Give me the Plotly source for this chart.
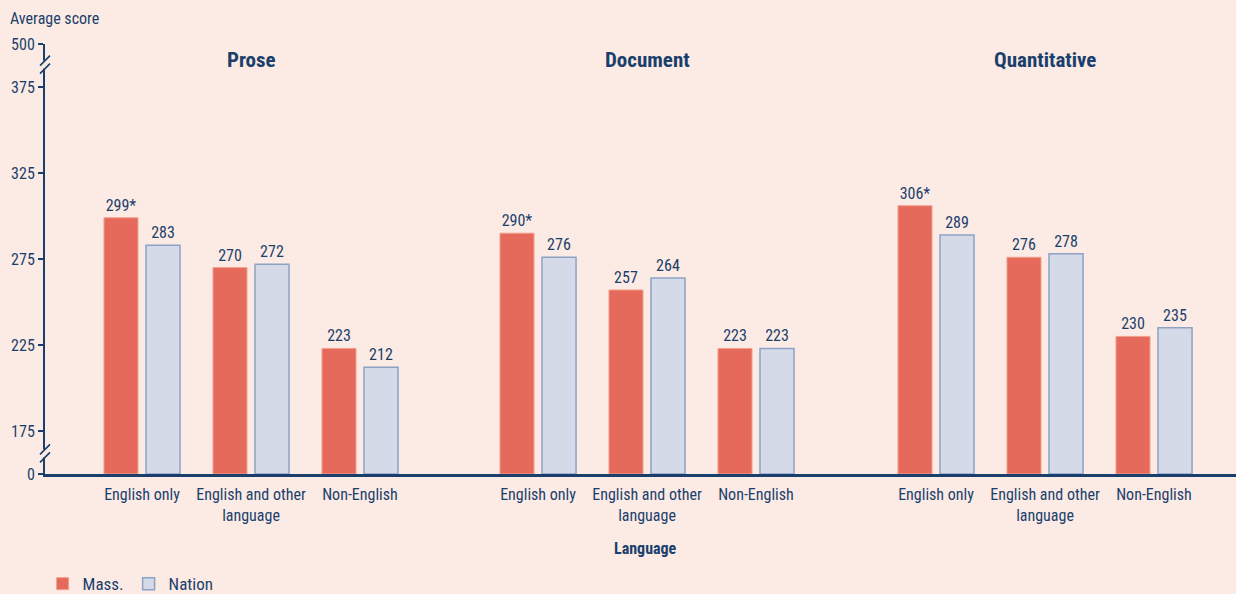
import plotly.graph_objects as go
from plotly.subplots import make_subplots

# ---- data ----
panels = ["Prose", "Document", "Quantitative"]
categories = ["English only", "English and other<br>language", "Non-English"]
mass = {
    "Prose": [299, 270, 223],
    "Document": [290, 257, 223],
    "Quantitative": [306, 276, 230],
}
mass_sig = {
    "Prose": [True, False, False],
    "Document": [True, False, False],
    "Quantitative": [True, False, False],
}
nation = {
    "Prose": [283, 272, 212],
    "Document": [276, 264, 223],
    "Quantitative": [289, 278, 235],
}
# broken axis: real score 0 drawn at 150, 500 drawn at 400
y_tickvals = [150, 175, 225, 275, 325, 375, 400]
y_ticktext = ["0", "175", "225", "275", "325", "375", "500"]
axis_floor = 150

# ---- style ----
NAVY = "#1B3F6C"
BG = "#FBEBE4"
RED = "#E66A5B"
RED_LINE = "#F2A08F"
BLUE = "#D4DAE7"
BLUE_LINE = "#8EA2C6"
FONT = "Noto Sans Condensed, Liberation Sans Narrow, Roboto Condensed, Roboto, sans-serif"

W, H = 1236, 594
ML, MR, MT, MB = 45, 0, 44, 120
PW = W - ML - MR
CAT_PX = 109
dom_px = [(45, 449), (449, 846), (846, 1236)]
first_center_px = [142, 538, 936]

fig = make_subplots(rows=1, cols=3, shared_yaxes=True, horizontal_spacing=0)

for i, p in enumerate(panels):
    col = i + 1
    fig.add_trace(go.Bar(
        x=categories, y=[v - axis_floor for v in mass[p]], base=axis_floor,
        name="Mass.", legendgroup="mass", showlegend=(i == 0),
        marker=dict(color=RED, line=dict(color=RED_LINE, width=1)),
        text=[f"{v}*" if s else f"{v}" for v, s in zip(mass[p], mass_sig[p])],
        textposition="outside", cliponaxis=False,
        textfont=dict(color=NAVY, size=16, family=FONT),
        hovertemplate="%{x}: " + "%{text}<extra>Mass.</extra>",
    ), row=1, col=col)
    fig.add_trace(go.Bar(
        x=categories, y=[v - axis_floor for v in nation[p]], base=axis_floor,
        name="Nation", legendgroup="nation", showlegend=(i == 0),
        marker=dict(color=BLUE, line=dict(color=BLUE_LINE, width=1.5)),
        text=[f"{v}" for v in nation[p]],
        textposition="outside", cliponaxis=False,
        textfont=dict(color=NAVY, size=16, family=FONT),
        hovertemplate="%{x}: " + "%{text}<extra>Nation</extra>",
    ), row=1, col=col)

    a, b = dom_px[i]
    c0 = first_center_px[i]
    xa = "xaxis" if i == 0 else f"xaxis{col}"
    fig.layout[xa].update(
        domain=[(a - ML) / PW, (b - ML) / PW],
        range=[-(c0 - a) / CAT_PX, (b - c0) / CAT_PX],
        showline=True, linecolor=NAVY, linewidth=2.5,
        ticks="", showgrid=False, zeroline=False, tickangle=0,
        ticklabelstandoff=4,
        tickfont=dict(color=NAVY, size=16, family=FONT),
        fixedrange=True,
    )
    # panel titles, centred over the middle category
    fig.add_annotation(
        text=f"<b>{p}</b>", xref="x" if i == 0 else f"x{col}", x=1,
        y=400, yref="y", yanchor="middle", yshift=-16,
        showarrow=False, font=dict(color=NAVY, size=21, family=FONT),
    )

fig.update_yaxes(
    range=[150, 400], tickvals=y_tickvals, ticktext=y_ticktext,
    showline=True, linecolor=NAVY, linewidth=2,
    ticks="outside", ticklen=5, tickwidth=2, tickcolor=NAVY,
    showgrid=False, zeroline=False,
    tickfont=dict(color=NAVY, size=16, family=FONT),
    fixedrange=True,
)
fig.update_yaxes(showline=False, ticks="", row=1, col=2)
fig.update_yaxes(showline=False, ticks="", row=1, col=3)

# axis breaks
for yb in [162, 388]:
    fig.add_shape(type="rect", xref="paper", yref="y", xsizemode="pixel", ysizemode="pixel",
                  xanchor=0, yanchor=yb, x0=-3, x1=3, y0=-4, y1=4,
                  fillcolor=BG, line=dict(width=0), layer="above")
    fig.add_shape(type="path", xref="paper", yref="y", xsizemode="pixel", ysizemode="pixel",
                  xanchor=0, yanchor=yb,
                  path="M-5,-9 L5,1 M-5,-1 L5,9",
                  line=dict(color=NAVY, width=1.6), layer="above")

# axis titles
fig.add_annotation(text="Average score", xref="paper", yref="paper", x=-ML / PW, xanchor="left",
                   xshift=8, y=1, yanchor="bottom", yshift=14, showarrow=False,
                   font=dict(color=NAVY, size=16, family=FONT))
fig.add_annotation(text="<b>Language</b>", xref="paper", yref="paper", x=(645 - ML) / PW,
                   y=0, yanchor="middle", yshift=-74, showarrow=False,
                   font=dict(color=NAVY, size=16, family=FONT))

fig.update_layout(
    width=W, height=H,
    margin=dict(l=ML, r=MR, t=MT, b=MB, autoexpand=False),
    paper_bgcolor=BG, plot_bgcolor=BG,
    barmode="group", bargap=0.229, bargroupgap=0.19,
    font=dict(family=FONT, color=NAVY),
    legend=dict(orientation="h", x=-0.002, xanchor="left", y=-0.256, yanchor="middle",
                font=dict(color=NAVY, size=17, family=FONT), bgcolor="rgba(0,0,0,0)",
                itemwidth=30),
    showlegend=True,
)

fig.write_html("out.html", config={"displayModeBar": False},
               post_script="document.body.style.margin='0';")
